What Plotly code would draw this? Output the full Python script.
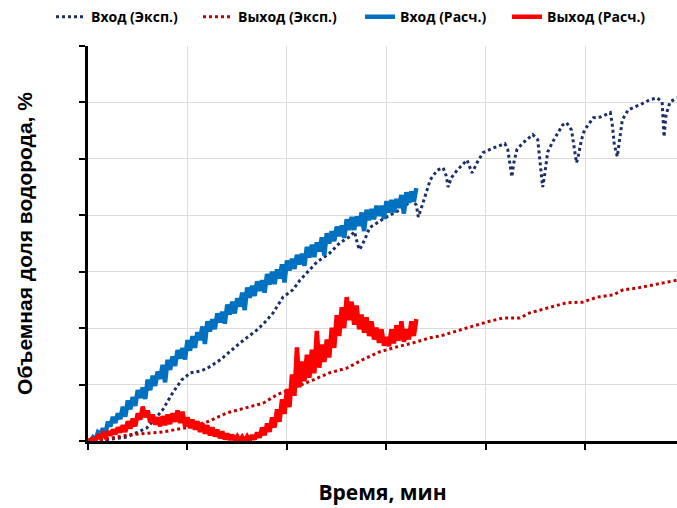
import plotly.graph_objects as go

# --- Experimental inlet (dotted navy) ---
exp_in_t = [0, 1.7, 3.9, 5.9, 7.5, 8.5, 9.4, 10.3, 11.3, 12.0, 13.3, 15.3, 17.0, 17.8, 18.6, 19.6,
            20.6, 21.3, 23.0, 24.3, 25.3, 26.3, 26.8, 27.1, 27.3, 27.8, 28.3, 29.8, 31.4, 32.6, 33.0,
            33.2, 33.6, 34.1, 34.4, 35.1, 35.7, 36.0, 36.2, 36.5, 37.1, 38.1, 38.6, 39.1, 39.7, 40.7,
            41.9, 42.2, 42.4, 42.6, 42.8, 43.1, 43.7, 44.7, 45.2, 45.4, 45.7, 45.9, 46.2, 46.7, 47.7,
            48.1, 48.6, 48.9, 49.1, 49.3, 49.6, 49.9, 50.8, 51.5, 52.5, 52.7, 52.9, 53.2, 53.4, 53.7,
            54.3, 55.5, 56.5, 57.2, 57.7, 57.8, 57.9, 58.1, 58.5, 59.2]
exp_in_y = [0, 0.2, 0.7, 2.3, 5.5, 8.5, 10.8, 12.1, 12.4, 12.9, 14.4, 17.4, 19.7, 21.1, 22.7, 25.5,
            26.8, 28.5, 31.7, 33.3, 35.1, 36.2, 37.1, 34.8, 33.9, 35.6, 37.8, 39.5, 41.0, 42.7, 41.8,
            39.7, 41.8, 44.5, 46.3, 48.0, 48.4, 47.0, 45.0, 46.6, 48.0, 49.8, 47.5, 49.3, 51.1, 51.9,
            52.7, 51.6, 48.9, 46.8, 49.3, 51.6, 52.8, 54.3, 53.4, 49.8, 45.0, 47.2, 51.2, 53.0, 56.0,
            56.4, 55.1, 51.6, 49.3, 50.7, 53.4, 55.1, 57.3, 57.4, 58.2, 56.0, 52.5, 50.4, 53.4, 56.9,
            58.7, 59.6, 60.5, 60.8, 60.1, 56.9, 53.9, 57.8, 60.1, 60.8]

# --- Experimental outlet (dotted dark red) ---
exp_out_t = [0, 2.2, 4.2, 7.5, 10.3, 12.0, 14.0, 16.0, 17.6, 19.0, 21.0, 22.6, 24.3, 26.0, 27.6,
             29.3, 31.1, 32.7, 34.4, 35.4, 36.7, 38.4, 40.1, 41.7, 43.4, 44.4, 46.7, 48.1, 49.7,
             51.2, 52.8, 53.8, 55.2, 56.8, 58.2, 59.2]
exp_out_y = [0, 0.5, 1.1, 1.6, 2.5, 3.4, 5.0, 5.9, 6.7, 8.2, 9.6, 10.8, 12.1, 12.9, 14.4,
             15.8, 16.7, 17.4, 18.3, 18.6, 19.3, 20.2, 21.1, 21.8, 21.8, 22.7, 23.8, 24.5, 24.6,
             25.5, 25.9, 26.8, 27.1, 27.7, 28.2, 28.5]

# --- Calculated (shared time grid) ---
calc_t = [0, 0.25, 0.5, 0.75, 1.0, 1.25, 1.5, 1.75, 2.0, 2.25, 2.5, 2.75, 3.0, 3.25, 3.5, 3.75,
          4.0, 4.25, 4.5, 4.75, 5.0, 5.25, 5.5, 5.75, 6.0, 6.25, 6.5, 6.75, 7.0, 7.25, 7.5, 7.75,
          8.0, 8.25, 8.5, 8.75, 9.0, 9.25, 9.5, 9.75, 10.0, 10.25, 10.5, 10.75, 11.0, 11.25, 11.5, 11.75,
          12.0, 12.25, 12.5, 12.75, 13.0, 13.25, 13.5, 13.75, 14.0, 14.25, 14.5, 14.75, 15.0, 15.25, 15.5, 15.75,
          16.0, 16.25, 16.5, 16.75, 17.0, 17.25, 17.5, 17.75, 18.0, 18.25, 18.5, 18.75, 19.0, 19.25, 19.5, 19.75,
          20.0, 20.25, 20.5, 20.75, 21.0, 21.25, 21.5, 21.75, 22.0, 22.25, 22.5, 22.75, 23.0, 23.25, 23.5, 23.75,
          24.0, 24.25, 24.5, 24.75, 25.0, 25.25, 25.5, 25.75, 26.0, 26.25, 26.5, 26.75, 27.0, 27.25, 27.5, 27.75,
          28.0, 28.25, 28.5, 28.75, 29.0, 29.25, 29.5, 29.75, 30.0, 30.25, 30.5, 30.75, 31.0, 31.25, 31.5, 31.75,
          32.0, 32.25, 32.5, 32.75, 33.0]
calc_in_y = [0, 0.0, 0.65, 0.15, 1.55, 1.2, 2.25, 1.2, 3.4, 2.6, 4.3, 3.2, 4.9, 3.9, 6.1, 4.3,
             7.2, 5.6, 7.8, 6.2, 9.0, 7.6, 9.5, 7.45, 10.9, 9.0, 11.6, 9.75, 12.3, 11.0, 13.5, 10.4,
             14.4, 12.6, 15.0, 13.3, 16.1, 14.6, 16.5, 14.45, 17.9, 16.0, 18.6, 16.5, 19.3, 17.9, 20.3, 17.2,
             21.2, 19.4, 21.6, 19.8, 22.6, 21.0, 22.9, 20.8, 24.2, 22.4, 24.7, 22.6, 25.3, 23.8, 26.3, 23.2,
             27.2, 25.4, 27.5, 25.7, 28.3, 26.6, 28.5, 26.3, 29.6, 27.7, 30.0, 27.8, 30.4, 28.8, 31.3, 28.1,
             32.0, 30.2, 32.3, 30.5, 33.0, 31.3, 33.2, 31.05, 34.4, 32.5, 34.8, 32.6, 35.2, 33.6, 36.1, 32.9,
             36.8, 35.0, 37.2, 35.4, 38.0, 36.3, 38.2, 36.0, 39.3, 37.4, 39.7, 37.4, 39.8, 38.1, 40.5, 37.2,
             41.0, 39.1, 41.1, 39.3, 41.7, 39.9, 41.7, 39.35, 42.5, 40.5, 42.7, 40.5, 42.9, 41.3, 43.6, 40.3,
             44.1, 42.2, 44.2, 42.4, 44.8]
calc_out_y = [0, 0.1, 0.4, 0.2, 0.9, 0.5, 1.3, 0.7, 1.7, 1.0, 2.0, 1.2, 2.4, 1.5, 2.8, 1.6,
              3.5, 2.2, 4.0, 2.6, 4.9, 3.8, 6.1, 4.2, 5.4, 3.3, 4.7, 2.9, 4.2, 2.6, 4.4, 2.8,
              4.7, 3.0, 4.9, 3.4, 5.4, 3.2, 5.2, 2.6, 4.2, 2.3, 3.8, 2.0, 3.5, 1.6, 3.1, 1.3,
              2.8, 1.0, 2.4, 0.8, 2.0, 0.5, 1.7, 0.3, 1.3, 0.2, 1.1, 0.1, 0.8, 0.0, 0.7, 0.0,
              0.8, 0.1, 1.0, 0.3, 1.5, 0.6, 2.4, 1.0, 3.1, 1.6, 4.2, 2.4, 5.6, 3.4, 7.4, 4.8,
              9.2, 6.0, 11.8, 8.0, 16.6, 9.5, 14.1, 10.6, 15.3, 11.2, 16.2, 12.0, 19.5, 13.0, 17.1, 14.0,
              18.0, 14.8, 20.1, 16.5, 22.3, 18.6, 23.7, 20.0, 25.5, 21.4, 24.7, 20.6, 24.0, 19.8, 22.4, 19.2,
              21.9, 18.6, 21.2, 18.0, 20.1, 17.4, 19.8, 16.9, 18.4, 16.8, 19.8, 17.3, 20.5, 17.8, 21.2, 17.6,
              19.8, 18.0, 21.2, 18.6, 21.6]

names = ["Вход (Эксп.)", "Выход (Эксп.)", "Вход (Расч.)", "Выход (Расч.)"]
x_ticks = [0, 10, 20, 30, 40, 50]
y_ticks = [0, 10, 20, 30, 40, 50, 60, 70]

fig = go.Figure()
fig.add_trace(go.Scatter(x=exp_in_t, y=exp_in_y, mode="lines", name=names[0], legend="legend",
                         line=dict(color="#1B2F66", width=3, dash="dot")))
fig.add_trace(go.Scatter(x=exp_out_t, y=exp_out_y, mode="lines", name=names[1], legend="legend2",
                         line=dict(color="#C00000", width=3, dash="dot")))
fig.add_trace(go.Scatter(x=calc_t, y=calc_in_y, mode="lines", name=names[2], legend="legend3",
                         line=dict(color="#0070C0", width=4.5)))
fig.add_trace(go.Scatter(x=calc_t, y=calc_out_y, mode="lines", name=names[3], legend="legend4",
                         line=dict(color="#FF0000", width=4.5)))

leg_font = dict(family="Open Sans, sans-serif", size=14, color="black", weight="bold")
def leg(xpos):
    return dict(orientation="h", xref="container", yref="container", x=xpos, xanchor="left",
                y=0.966, yanchor="middle", font=leg_font, bgcolor="rgba(0,0,0,0)")

fig.update_layout(
    width=677, height=508,
    margin=dict(l=88, r=0, t=46, b=67, autoexpand=False),
    paper_bgcolor="white", plot_bgcolor="white",
    showlegend=True,
    legend=leg(0.0753), legend2=leg(0.2925), legend3=leg(0.5318), legend4=leg(0.7489),
    font=dict(family="Liberation Sans, Arial, sans-serif", color="black"),
)
fig.update_xaxes(range=[0, 59.2], tickvals=x_ticks, showticklabels=False,
                 showline=True, linecolor="black", linewidth=2.5,
                 ticks="outside", ticklen=6, tickwidth=2, tickcolor="black",
                 showgrid=True, gridcolor="#DCDCDC", gridwidth=1, zeroline=False, automargin=False,
                 title=dict(text="<b>Время, мин</b>", standoff=37,
                            font=dict(family="Open Sans, sans-serif", size=21)))
fig.update_yaxes(range=[0, 70], tickvals=y_ticks, showticklabels=False,
                 showline=True, linecolor="black", linewidth=2.5,
                 ticks="outside", ticklen=6, tickwidth=2, tickcolor="black",
                 showgrid=True, gridcolor="#DCDCDC", gridwidth=1, zeroline=False, automargin=False,
                 title=dict(text="<b>Объемная доля водорода, %</b>", standoff=41,
                            font=dict(family="Liberation Sans, Arial, sans-serif", size=21)))

fig.write_html("out.html", config={"displayModeBar": False},
               post_script="document.body.style.margin='0';")
